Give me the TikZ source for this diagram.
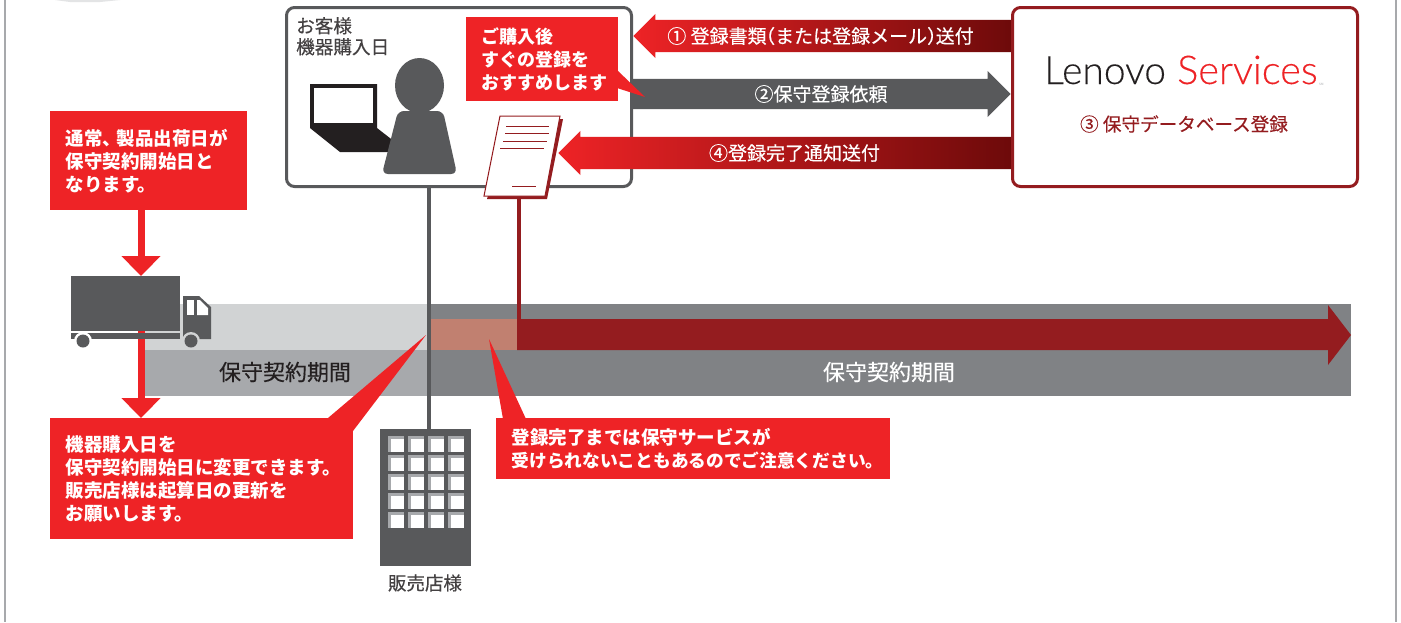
\documentclass[tikz,border=0pt]{standalone}
\usepackage{fontspec}
\setmainfont{Noto Sans CJK JP}
\newfontfamily\medfont[FakeBold=0.35]{Noto Sans CJK JP}
\newfontfamily\logofont[FakeBold=0.15]{Lato Light}
\usetikzlibrary{arrows.meta,shapes.arrows}
\definecolor{signred}{HTML}{EE2326}
\definecolor{deepred}{HTML}{941C1F}
\definecolor{darkend}{HTML}{6D0A0A}
\definecolor{slate}{HTML}{58595B}
\definecolor{midgray}{HTML}{808285}
\definecolor{softgray}{HTML}{A7A9AC}
\definecolor{palegray}{HTML}{D1D3D4}
\definecolor{inkblack}{HTML}{231F20}
\definecolor{blush}{HTML}{C18070}
\tikzset{
 redbox/.style={fill=signred,text=white,anchor=north west,inner xsep=15.5pt,inner ysep=0pt,align=left,
  font=\fontsize{18.5}{23}\selectfont\bfseries},
 roundbox/.style={draw,fill=white,line width=3pt,rounded corners=8pt,anchor=north west,outer sep=0pt,minimum width=345,minimum height=179},
 blockarrow/.style={single arrow,anchor=tip,inner sep=0pt,text height=32pt,text depth=0pt,text width=0pt,single arrow head extend=6pt},
 arrowtext/.style={text=white,inner sep=0pt,font=\medfont\fontsize{19}{20}\selectfont},
 bandtext/.style={inner sep=0pt,font=\medfont\fontsize{22}{24}\selectfont},
 dropline/.style={draw=signred,line width=7pt,-{Triangle[length=20pt,width=38pt]}},
}
\begin{document}
\begin{tikzpicture}[x=1pt,y=-1pt]
\useasboundingbox (0,0) rectangle (1401,622);
\fill[white] (0,0) rectangle (1401,622);
\draw[softgray,line width=1.5pt] (5,0) -- (5,622);
\draw[softgray,line width=1.5pt] (1396,0) -- (1396,622);
\fill[palegray!60] (55,0) -- (120,0) -- (100,2) -- (70,2) -- cycle;
% bands
\fill[palegray] (145,304) rectangle (428,350);
\fill[softgray] (145,350) rectangle (428,396);
\fill[midgray] (431,304) rectangle (1351,396);
\fill[blush] (431,319) rectangle (517,350);
\fill[deepred] (517,319) -- (1328,319) -- (1328,305) -- (1351,335) -- (1328,365) -- (1328,350) -- (517,350) -- cycle;
\node[bandtext,text=inkblack] (bandleft) at (285,372) {保守契約期間};
\node[bandtext,text=white] (bandright) at (889,372) {保守契約期間};
% notes and truck
\node[redbox,text width=166,minimum height=99] (shipnote) at (50,111) {通常、\hspace{-.25em}製品出荷日が\\保守契約開始日と\\なります。};
\node[redbox,text width=272,minimum height=121] (changenote) at (50,418) {機器購入日を\\保守契約開始日に変更できます。\\販売店様は起算日の更新を\\お願いします。};
\fill[signred] (328,418) -- (426,335) -- (353,431) -- (353,418) -- cycle;
\node[redbox,text width=363,minimum height=61,font=\fontsize{17.7}{23}\selectfont\bfseries] (waitnote) at (496,418) {{\fontsize{18.5}{23}\selectfont 登録完了までは保守サービスが}\\受けられないこともあるのでご注意ください。};
\fill[signred] (503,419) -- (489,339) -- (526,419) -- cycle;
\coordinate (dropx) at (141,276);
\node[fill=slate,anchor=north west,inner sep=0pt,minimum width=109,minimum height=55] (truckbody) at (71,276) {};
\draw[dropline] (dropx |- shipnote.south) -- (dropx);
\draw[dropline] (dropx |- truckbody.south) -- (dropx |- changenote.north);
\fill[slate] (71,333) rectangle (180,339);
\fill[slate] (183,296) -- (199,296) -- (211,307) -- (211,339) -- (183,339) -- cycle;
\fill[white] (187,300) rectangle (194,315);
\fill[white] (197,300) -- (200,300) -- (208,308) -- (208,315) -- (197,315) -- cycle;
\fill[white] (83,341) circle (9);
\fill[palegray] (191,341) circle (9);
\foreach \x in {83,191} {
\fill[slate] (\x,341) circle (6.5);
}
% building
\node[fill=slate,anchor=north west,inner sep=0pt,minimum width=91,minimum height=137] (shop) at (380,429) {};
\foreach \x in {0,1,2,3} {
\foreach \y in {0,1,2,3,4} {
\fill[softgray] (388+20*\x,436+19*\y) rectangle +(16,16);
\fill[white] (391+20*\x,439+19*\y) rectangle +(13,13);
}
}
\node[inner sep=0pt,text=inkblack!85,font=\medfont\fontsize{18.5}{20}\selectfont] (shoplabel) at (425,583) {販売店様};
% customer box
\node[roundbox,draw=slate] (customer) at (286.5,7.5) {};
\node[anchor=north west,inner sep=0pt,align=left,text=inkblack!85,font=\medfont\fontsize{18.6}{21}\selectfont] (buyday) at (296,17) {お客様\\機器購入日};
\draw[slate,line width=4pt] (429,186) -- (shop.north -| 429,0);
\fill[inkblack] (310,84) -- (377,84) -- (377,128) -- (395,142) -- (395,152) -- (340,152) -- (310,128) -- cycle;
\fill[white] (314,88) rectangle (373,123);
\fill[slate] (419.5,85.5) ellipse (24.5 and 27.5);
\fill[slate,rounded corners=6pt] (398,111) -- (443,111) -- (457,174) -- (382,174) -- cycle;
% arrows
\node[blockarrow,shape border rotate=180,left color=signred,middle color=signred!70!darkend,right color=darkend,minimum height=379] (step1) at (633,36) {};
\node[arrowtext] (step1text) at (820.5,36) {① 登録書類\hspace{-.55em}（または登録メール）\hspace{-.55em}送付};
\node[blockarrow,fill=slate,minimum height=380,text height=30pt,single arrow head extend=8pt] (step2) at (1011,94) {};
\node[arrowtext] (step2text) at (821,94) {②保守登録依頼};
\node[blockarrow,shape border rotate=180,left color=signred,middle color=signred!70!darkend,right color=darkend,minimum height=454] (step4) at (558,153) {};
\node[arrowtext] (step4text) at (794.5,153) {④登録完了通知送付};
% document
\fill[deepred] (510,119) -- (563,119) -- (547,199) -- (487,199) -- cycle;
\filldraw[draw=deepred,fill=white,line width=1pt] (500,116) -- (560,116) -- (545,196) -- (484,196) -- cycle;
\draw[deepred,line width=1pt] (506,126) -- (549,126);
\draw[deepred,line width=1pt] (505,133) -- (549,133);
\draw[deepred,line width=1pt] (503,141) -- (547,141);
\draw[deepred,line width=1pt] (500,148) -- (544,148);
\draw[deepred,line width=1pt] (512,186) -- (536,186);
\draw[deepred,line width=4pt] (519,199) -- (519,320);
% callout
\node[redbox,text width=121,minimum height=84,font=\fontsize{18}{23}\selectfont\bfseries] (buynote) at (466,17) {ご購入後\\すぐの登録を\\おすすめします};
\fill[signred] (617,70) -- (645,97) -- (617,88) -- cycle;
% service box
\node[roundbox,draw=deepred] (lenovo) at (1012.5,7.5) {};
\node[anchor=base west,inner sep=0pt,text=inkblack,font=\logofont\fontsize{39}{44}\selectfont] (logoa) at (1044,84) {Lenovo};
\node[anchor=base west,inner sep=0pt,text=signred,font=\logofont\fontsize{39.7}{44}\selectfont] (logob) at (1177,84) {Services};
\node[anchor=base west,inner sep=0pt,text=softgray,font=\fontsize{3}{4}\selectfont] (logomark) at (1319,85) {SM};
\node[inner sep=0pt,text=deepred,font=\medfont\fontsize{18.6}{20}\selectfont] (step3) at (1184,124) {③ 保守データベース登録};
\end{tikzpicture}
\end{document}
